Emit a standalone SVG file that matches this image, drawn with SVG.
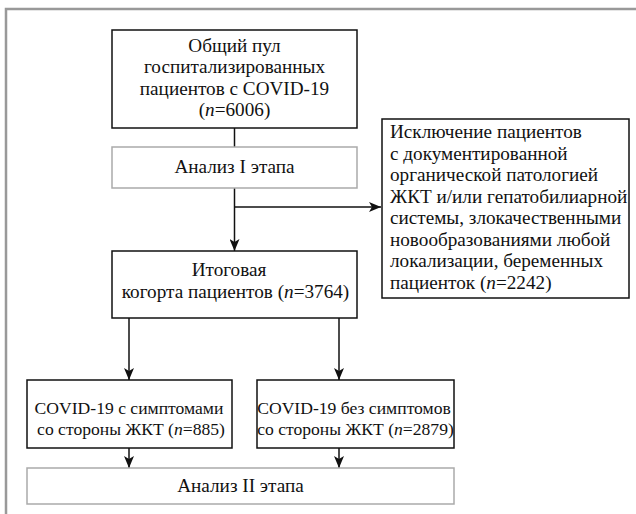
<svg xmlns="http://www.w3.org/2000/svg" width="636" height="514" viewBox="0 0 636 514">
<style>
text{font-family:"Liberation Serif","Times New Roman",serif;font-size:19.2px;fill:#111}
.c{text-anchor:middle}
.s{font-size:17.6px}
.box{fill:#fff;stroke:#111;stroke-width:1.5}
.gbox{fill:#fff;stroke:#aaa;stroke-width:1.5}
.ln{fill:none;stroke:#111;stroke-width:1.5}
.i{font-style:italic}
</style>
<defs>
<marker id="ah" viewBox="0 0 12 10" refX="12" refY="5" markerWidth="12" markerHeight="10" markerUnits="userSpaceOnUse" orient="auto">
<path d="M0,0 L12,5 L0,10 L3,5 z" fill="#111"/>
</marker>
</defs>
<rect width="636" height="514" fill="#fff"/>
<path d="M6,514 V9 H636" fill="none" stroke="#999" stroke-width="2.5"/>
<g id="connectors">
<path class="ln" d="M234.5,128 V147"/>
<path class="ln" d="M234.5,188 V251" marker-end="url(#ah)"/>
<path class="ln" d="M234.5,207 H381" marker-end="url(#ah)"/>
<path class="ln" d="M129,318 V380" marker-end="url(#ah)"/>
<path class="ln" d="M339,318 V380" marker-end="url(#ah)"/>
<path class="ln" d="M129,448 V468" marker-end="url(#ah)"/>
<path class="ln" d="M339,448 V468" marker-end="url(#ah)"/>
</g>
<g id="total">
<rect class="box" x="112" y="30" width="245" height="98"/>
<text class="c" x="234.5" y="52">Общий пул</text>
<text class="c" x="234.5" y="73">госпитализированных</text>
<text class="c" x="234.5" y="95">пациентов с COVID-19</text>
<text class="c" x="234.5" y="116">(<tspan class="i">n</tspan>=6006)</text>
</g>
<g id="stage1">
<rect class="gbox" x="112" y="147" width="245" height="41"/>
<text class="c" x="234.5" y="173">Анализ I этапа</text>
</g>
<g id="exclusion">
<rect class="box" x="382" y="119" width="247" height="179"/>
<text x="390" y="138">Исключение пациентов</text>
<text x="390" y="159.5">с документированной</text>
<text x="390" y="181">органической патологией</text>
<text x="390" y="202.5">ЖКТ и/или гепатобилиарной</text>
<text x="390" y="224">системы, злокачественными</text>
<text x="390" y="245.5">новообразованиями любой</text>
<text x="390" y="267">локализации, беременных</text>
<text x="390" y="288.5">пациенток (<tspan class="i">n</tspan>=2242)</text>
</g>
<g id="cohort">
<rect class="box" x="112" y="251" width="245" height="67"/>
<text class="c" x="229" y="276">Итоговая</text>
<text class="c" x="235.5" y="298">когорта пациентов (<tspan class="i">n</tspan>=3764)</text>
</g>
<g id="gi">
<rect class="box" x="27" y="380" width="205" height="68"/>
<text class="c s" x="129" y="414">COVID-19 с симптомами</text>
<text class="c s" x="131" y="435">со стороны ЖКТ (<tspan class="i">n</tspan>=885)</text>
</g>
<g id="nogi">
<rect class="box" x="257" y="380" width="197" height="68"/>
<text class="c s" x="354" y="414">COVID-19 без симптомов</text>
<text class="c s" x="355.5" y="435">со стороны ЖКТ (<tspan class="i">n</tspan>=2879)</text>
</g>
<g id="stage2">
<rect class="gbox" x="27" y="468" width="427" height="36"/>
<text class="c" x="240.5" y="492">Анализ II этапа</text>
</g>
</svg>
